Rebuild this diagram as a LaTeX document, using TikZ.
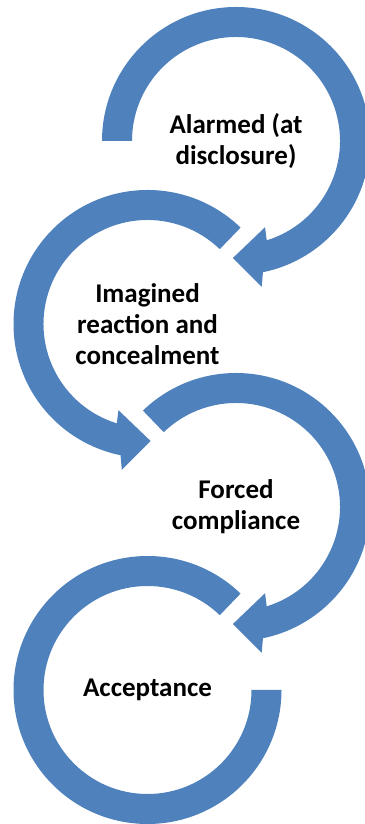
\documentclass[tikz,border=0pt]{standalone}
\usepackage{fontspec}
\setmainfont{Carlito}
\definecolor{accentblue}{RGB}{79,129,189}
\tikzset{
  ring/.style={fill=accentblue},
  steplabel/.style={align=center, font=\bfseries\fontsize{27}{31}\selectfont}
}

\begin{document}
\begin{tikzpicture}[x=1pt, y=1pt]
	\useasboundingbox (0,0) rectangle (364,824);
	\coordinate (c1) at (236,683);
	\coordinate (c2) at (147.5,500);
	\coordinate (c3) at (236,317);
	\coordinate (c4) at (147.5,134);
	% first ring, flat start on the left
	\begin{scope}[shift={(c1)}]
		\fill[ring] (180:134pt) arc[start angle=180, end angle=-78.4, radius=134pt] -- (-80:148pt) -- (-91.5:117pt) -- (-71.4:91pt) -- (-72.8:104pt) arc[start angle=-72.8, end angle=180, radius=104pt] -- cycle;
	\end{scope}
	% second ring, mirrored
	\begin{scope}[shift={(c2)}, xscale=-1]
		\fill[ring] (134:134pt) arc[start angle=134, end angle=-78.4, radius=134pt] -- (-80:148pt) -- (-91.5:117pt) -- (-71.4:91pt) -- (-72.8:104pt) arc[start angle=-72.8, end angle=134, radius=104pt] -- cycle;
	\end{scope}
	\begin{scope}[shift={(c3)}]
		\fill[ring] (134:134pt) arc[start angle=134, end angle=-78.4, radius=134pt] -- (-80:148pt) -- (-91.5:117pt) -- (-71.4:91pt) -- (-72.8:104pt) arc[start angle=-72.8, end angle=134, radius=104pt] -- cycle;
	\end{scope}
	% last ring, no head
	\begin{scope}[shift={(c4)}]
		\fill[ring] (46:134pt) arc[start angle=46, end angle=360, radius=134pt] -- (0:104pt) arc[start angle=360, end angle=46, radius=104pt] -- cycle;
	\end{scope}
	\node[steplabel] (alarmed) at (c1) {Alarmed (at\\disclosure)};
	\node[steplabel] (imagined) at (c2) {Imagined\\reaction and\\concealment};
	\node[steplabel] (forced) at (c3) {Forced\\compliance};
	\node[steplabel] (acceptance) at (c4) {Acceptance};
\end{tikzpicture}
\end{document}
